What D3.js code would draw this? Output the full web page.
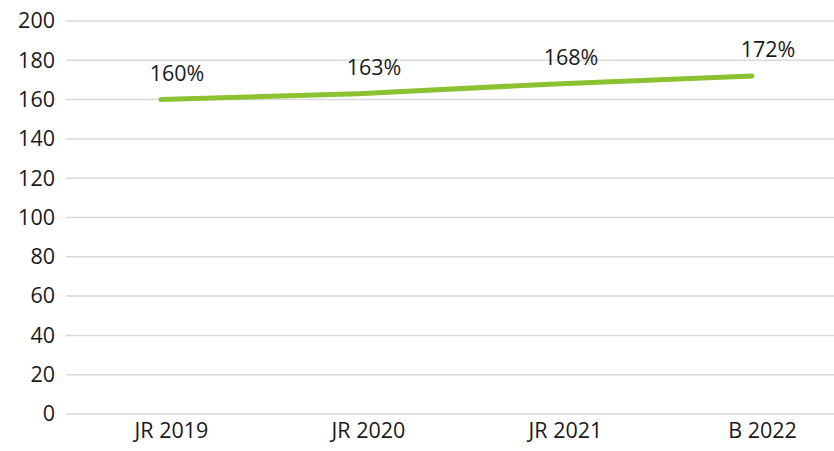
<!DOCTYPE html>
<html>
<head>
<meta charset="utf-8">
<script src="https://cdn.jsdelivr.net/npm/d3@7"></script>
<style>
  body { margin: 0; background: #fff; }
  text { font-family: "Open Sans", sans-serif; fill: #1a1a1a; }
</style>
</head>
<body>
<svg width="834" height="451"></svg>
<script>
// chart data
const categories = ["JR 2019", "JR 2020", "JR 2021", "B 2022"];
const values = [160, 163, 168, 172];
const labels = ["160%", "163%", "168%", "172%"];
const yTicks = [0, 20, 40, 60, 80, 100, 120, 140, 160, 180, 200];

const svg = d3.select("svg");
const fontSize = 21.5;

// scales - the plot runs a bit past the right edge of the picture
const x = d3.scalePoint()
    .domain(categories)
    .range([161, 752]);

const y = d3.scaleLinear()
    .domain([0, 200])
    .range([414, 21]);

// gridlines
svg.append("g")
    .selectAll("line")
    .data(yTicks)
    .enter()
    .append("line")
    .attr("x1", 66)
    .attr("x2", 834)
    .attr("y1", d => y(d))
    .attr("y2", d => y(d))
    .attr("stroke", "#d9d9d9")
    .attr("stroke-width", 1.5);

// y axis labels
const yAxis = svg.append("g")
    .attr("transform", "translate(55,0)")
    .call(d3.axisLeft(y).tickValues(yTicks).tickSize(0).tickPadding(0));
yAxis.select(".domain").remove();
yAxis.selectAll("text")
    .style("font-size", fontSize + "px")
    .style("font-family", "Open Sans, sans-serif")
    .attr("fill", "#1a1a1a");

// x axis labels
const xAxis = svg.append("g")
    .attr("transform", "translate(10,423)")
    .call(d3.axisBottom(x).tickSize(0).tickPadding(0));
xAxis.select(".domain").remove();
xAxis.selectAll("text")
    .style("font-size", fontSize + "px")
    .style("font-family", "Open Sans, sans-serif")
    .attr("fill", "#1a1a1a");

// the line
const line = d3.line()
    .x((d, i) => x(categories[i]))
    .y(d => y(d));

svg.append("path")
    .datum(values)
    .attr("d", line)
    .attr("fill", "none")
    .attr("stroke", "#8cc232")
    .attr("stroke-width", 5)
    .attr("stroke-linecap", "round")
    .attr("stroke-linejoin", "round");

// data labels
svg.append("g")
    .selectAll("text")
    .data(values)
    .enter()
    .append("text")
    .attr("x", (d, i) => x(categories[i]) + 16)
    .attr("y", d => y(d) - 19)
    .attr("text-anchor", "middle")
    .style("font-size", fontSize + "px")
    .text((d, i) => labels[i]);
</script>
</body>
</html>
